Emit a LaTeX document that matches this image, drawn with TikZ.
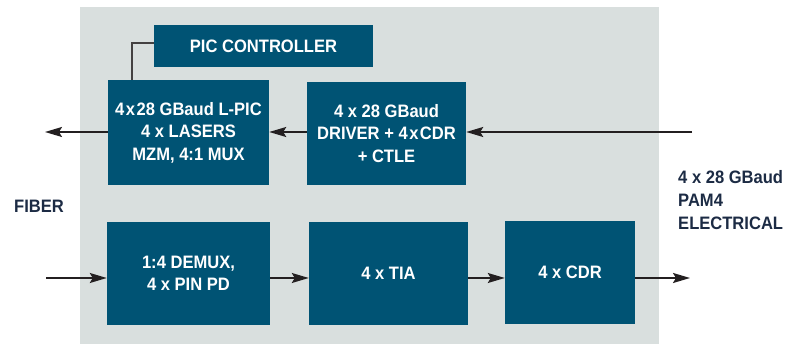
\documentclass[tikz,border=0pt]{standalone}
\usepackage{fontspec}
\setmainfont[FakeStretch=0.92]{Liberation Sans}
\usetikzlibrary{arrows.meta}
\definecolor{blockblue}{HTML}{005374}
\definecolor{panelgray}{HTML}{D9DFDE}
\definecolor{labelnavy}{HTML}{1C2B44}
\definecolor{wire}{HTML}{231F20}
\tikzset{
  blk/.style={fill=blockblue, text=white, align=center, inner sep=0pt,
              font=\bfseries\fontsize{18}{22.5}\selectfont},
  lbl/.style={text=labelnavy, align=left, inner sep=0pt,
              font=\bfseries\fontsize{18}{23}\selectfont},
  arr/.style={draw=wire, line width=1.8pt, -{Stealth[length=17pt,width=10pt,inset=3pt]}},
  link/.style={draw=wire!85!white, line width=1.5pt}
}
\begin{document}
\begin{tikzpicture}[x=1pt,y=-1pt]
\useasboundingbox (0,0) rectangle (795,344);
% module outline
\fill[panelgray] (80,7) rectangle (659,344);

% transmit path
\node[blk, minimum width=219pt, minimum height=42pt] (pic) at (263.5,46) {PIC CONTROLLER};
\node[blk, minimum width=161pt, minimum height=105pt] (lpic) at (188.5,132.5)
  {4\kern1.5pt x\kern1.5pt 28 GBaud L-PIC\\4 x LASERS\\MZM, 4:1 MUX};
\node[blk, minimum width=159pt, minimum height=103pt] (drv) at (386.5,133.5)
  {4 x 28 GBaud\\DRIVER + 4\kern1.5pt x\kern1.5pt CDR\\+ CTLE};

% receive path
\node[blk, minimum width=163pt, minimum height=103pt] (demux) at (188.5,273.5)
  {1:4 DEMUX,\\4 x PIN PD};
\node[blk, minimum width=159pt, minimum height=103pt] (tia) at (388.5,273.5) {4 x TIA};
\node[blk, minimum width=130pt, minimum height=103pt] (cdr) at (570,272.5) {4 x CDR};

% side labels
\node[lbl, anchor=west] (fiber) at (14,206) {FIBER};
\node[lbl, anchor=north west] (elec) at (678,170) {4 x 28 GBaud\\PAM4\\ELECTRICAL};

% free ends of the connectors
\coordinate (txout) at (45,132);
\coordinate (txin) at (692,132);
\coordinate (rxin) at (46,278);
\coordinate (rxout) at (690,278);

% connectors
\draw[link] ([xshift=24pt]lpic.north west) |- ([yshift=3pt]pic.west);
\draw[arr] (txin) -- (txin -| drv.east);
\draw[arr] (drv.west |- txin) -- (lpic.east |- txin);
\draw[arr] (lpic.west |- txout) -- (txout);
\draw[arr] (rxin) -- (demux.west |- rxin);
\draw[arr] (demux.east |- rxin) -- (tia.west |- rxin);
\draw[arr] (tia.east |- rxin) -- (cdr.west |- rxin);
\draw[arr] (cdr.east |- rxin) -- (rxout);
\end{tikzpicture}
\end{document}
